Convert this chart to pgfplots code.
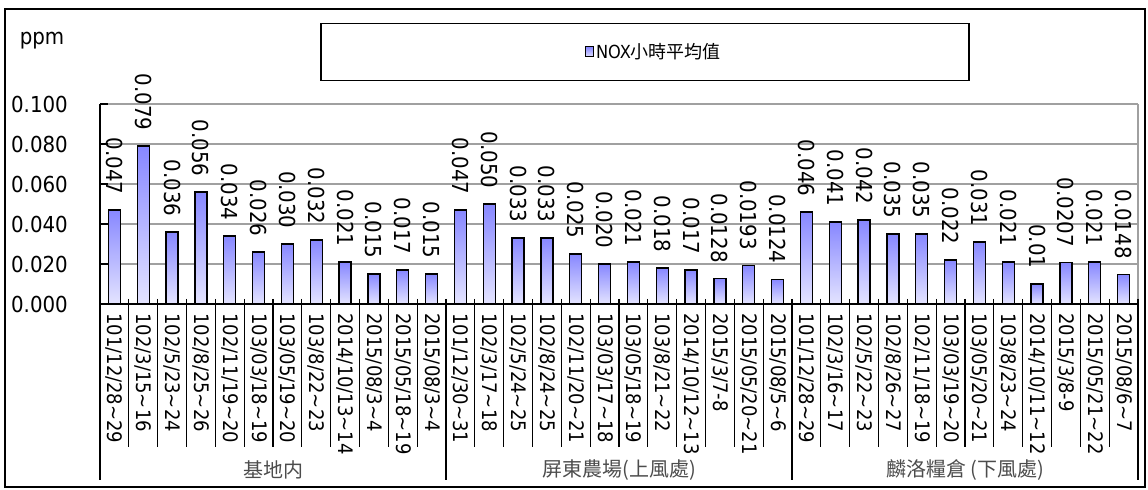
\documentclass[border=0pt]{standalone}
\usepackage{fontspec}
\usepackage{pgfplots}
\pgfplotsset{compat=1.18}
\usepackage{pgfplotstable}
\setmainfont{DejaVu Sans Condensed}
\newfontfamily\cjk{Noto Sans CJK TC}
\newcommand\fs[1]{\fontsize{#1}{#1}\selectfont}
\newcommand\tld{\textasciitilde}
\definecolor{bartop}{RGB}{135,135,255}
\definecolor{barbot}{RGB}{228,228,255}
\definecolor{gridc}{RGB}{160,160,160}

\pgfplotstableread{
x y lab
0 0.047 0.047
1 0.079 0.079
2 0.036 0.036
3 0.056 0.056
4 0.034 0.034
5 0.026 0.026
6 0.030 0.030
7 0.032 0.032
8 0.021 0.021
9 0.015 0.015
10 0.017 0.017
11 0.015 0.015
12 0.047 0.047
13 0.050 0.050
14 0.033 0.033
15 0.033 0.033
16 0.025 0.025
17 0.020 0.020
18 0.021 0.021
19 0.018 0.018
20 0.017 0.017
21 0.0128 0.0128
22 0.0193 0.0193
23 0.0124 0.0124
24 0.046 0.046
25 0.041 0.041
26 0.042 0.042
27 0.035 0.035
28 0.035 0.035
29 0.022 0.022
30 0.031 0.031
31 0.021 0.021
32 0.010 0.01
33 0.0207 0.0207
34 0.021 0.021
35 0.0148 0.0148
}\nox

\begin{document}
\begin{tikzpicture}
\path[use as bounding box] (0,0) rectangle (1148bp,490bp);
\draw[line width=1.5bp] (5bp,3bp) rectangle (1145bp,481bp);
\node[font=\fs{22bp}] at (42bp,449bp) {ppm};
\begin{axis}[
  at={(100bp,186bp)}, anchor=south west,
  scale only axis, width=1038bp, height=200bp,
  xmin=-0.5, xmax=35.5, ymin=0, ymax=0.1,
  clip=false,
  axis x line*=bottom, axis y line*=left,
  axis line style={line width=1.3bp, black, -},
  ytick={0,0.02,0.04,0.06,0.08,0.1},
  scaled y ticks=false,
  ymajorgrids, grid style={line width=1.3bp, gridc},
  yticklabel style={/pgf/number format/fixed, /pgf/number format/fixed zerofill, /pgf/number format/precision=3, /pgf/number format/assume math mode=true,
    font=\fs{22bp}, anchor=east, inner sep=0pt, xshift=-32bp},
  ytick style={line width=1.3bp, black},
  major tick length=8bp, tick align=inside,
  xtick={0,...,35},
  xtick style={draw=none},
  xticklabels={101/12/28\tld29, 102/3/15\tld16, 102/5/23\tld24, 102/8/25\tld26, 102/11/19\tld20, 103/03/18\tld19, 103/05/19\tld20, 103/8/22\tld23, 2014/10/13\tld14, 2015/08/3\tld4, 2015/05/18\tld19, 2015/08/3\tld4,
    101/12/30\tld31, 102/3/17\tld18, 102/5/24\tld25, 102/8/24\tld25, 102/11/20\tld21, 103/03/17\tld18, 103/05/18\tld19, 103/8/21\tld22, 2014/10/12\tld13, 2015/3/7-8, 2015/05/20\tld21, 2015/08/5\tld6,
    101/12/28\tld29, 102/3/16\tld17, 102/5/22\tld23, 102/8/26\tld27, 102/11/18\tld19, 103/03/19\tld20, 103/05/20\tld21, 103/8/23\tld24, 2014/10/11\tld12, 2015/3/8-9, 2015/05/21\tld22, 2015/08/6\tld7},
  x tick label style={font=\fs{20bp}, inner sep=0pt, yshift=-9bp, rotate=-90, anchor=west},
  legend style={at={(0.525,1.26)}, anchor=center, draw=black, line width=1.5bp,
    inner xsep=246bp, inner ysep=18bp, font=\fs{18bp}},
  legend image code/.code={\path (-18bp,0bp); \draw[draw=black, fill=bartop!60, line width=1bp] (0bp,-5bp) rectangle (8bp,5bp);},
]
\pgfplotsinvokeforeach{0,...,35}{
\addplot[ybar, bar width=12bp, bar shift=0pt, draw=black, line width=1.3bp,
  top color=bartop, bottom color=barbot,
  nodes near coords,
  nodes near coords style={font=\fs{22bp}, inner sep=0pt, yshift=15bp, rotate=-90, anchor=east},
  x filter/.expression={x==#1 ? x : nan},
  point meta=explicit symbolic] table[x=x, y=y, meta=lab] {\nox};
}
\legend{NOX{\cjk 小時平均值}}
\draw[gridc, line width=1.3bp] (rel axis cs:1,0) -- (rel axis cs:1,1);
\pgfplotsinvokeforeach{-0.5,0.5,...,35.5}{
  \draw[line width=1.3bp] ([yshift=5bp]axis cs:#1,0) -- ([yshift=-143bp]axis cs:#1,0);
}
\pgfplotsinvokeforeach{-0.5,11.5,23.5,35.5}{
  \draw[line width=1.3bp] (axis cs:#1,0) -- ([yshift=-176bp]axis cs:#1,0);
}
\node[font=\cjk\fs{20bp}, text=black!70] at ([yshift=-166bp]axis cs:5.5,0) {基地内};
\node[font=\cjk\fs{20bp}, text=black!70] at ([yshift=-166bp]axis cs:17.5,0) {屏東農場(上風處)};
\node[font=\cjk\fs{20bp}, text=black!70] at ([yshift=-166bp]axis cs:29.5,0) {麟洛糧倉 (下風處)};
\end{axis}
\end{tikzpicture}
\end{document}
